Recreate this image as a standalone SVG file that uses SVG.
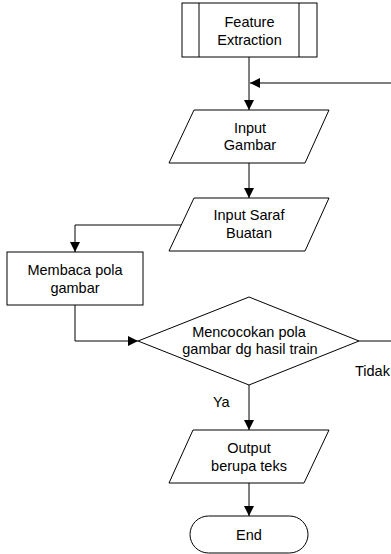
<svg xmlns="http://www.w3.org/2000/svg" width="391" height="554" viewBox="0 0 391 554">
<style>
.s{fill:#fff;stroke:#000;stroke-width:1}
.c{fill:none;stroke:#000;stroke-width:1}
text{font-family:"Liberation Sans",Arial,sans-serif;font-size:14.5px;fill:#000}
.m{text-anchor:middle}
</style>
<defs>
<marker id="a" markerUnits="userSpaceOnUse" markerWidth="10" markerHeight="10" refX="10" refY="5" orient="auto">
<path d="M0,0 L10,5 L0,10 z" fill="#000"/>
</marker>
</defs>
<rect width="391" height="554" fill="#fff"/>
<g id="connectors">
<line class="c" x1="249" y1="57" x2="249" y2="110" marker-end="url(#a)"/>
<line class="c" x1="391" y1="83" x2="250" y2="83" marker-end="url(#a)"/>
<line class="c" x1="249" y1="163" x2="249" y2="198" marker-end="url(#a)"/>
<polyline class="c" points="181,225 75,225 75,252" marker-end="url(#a)"/>
<polyline class="c" points="75,305 75,341 138,341" marker-end="url(#a)"/>
<line class="c" x1="359" y1="341" x2="391" y2="341"/>
<line class="c" x1="249" y1="385" x2="249" y2="430" marker-end="url(#a)"/>
<line class="c" x1="249" y1="483" x2="249" y2="516" marker-end="url(#a)"/>
<text x="355" y="376">Tidak</text>
<text x="213" y="407">Ya</text>
</g>
<g id="feature">
<rect class="s" x="182" y="3" width="135" height="54"/>
<line class="c" x1="199" y1="3" x2="199" y2="57"/>
<line class="c" x1="299" y1="3" x2="299" y2="57"/>
<text class="m" x="249.5" y="26.5">Feature</text>
<text class="m" x="249.5" y="45">Extraction</text>
</g>
<g id="input-gambar">
<polygon class="s" points="194,110 329,110 305,163 169,163"/>
<text class="m" x="250" y="132.5">Input</text>
<text class="m" x="250" y="150">Gambar</text>
</g>
<g id="input-saraf">
<polygon class="s" points="194,198 329,198 305,251 169,251"/>
<text class="m" x="249" y="220">Input Saraf</text>
<text class="m" x="249" y="238">Buatan</text>
</g>
<g id="membaca">
<rect class="s" x="7" y="252" width="136" height="53"/>
<text class="m" x="75" y="275">Membaca pola</text>
<text class="m" x="75" y="293">gambar</text>
</g>
<g id="decision">
<polygon class="s" points="138,341 249,297 359,341 249,385"/>
<text class="m" x="249" y="336.5">Mencocokan pola</text>
<text class="m" x="250" y="354">gambar dg hasil train</text>
</g>
<g id="output">
<polygon class="s" points="193,430 329,430 304,483 169,483"/>
<text class="m" x="249" y="453">Output</text>
<text class="m" x="249" y="471">berupa teks</text>
</g>
<g id="end">
<rect class="s" x="190" y="516" width="118" height="37" rx="18.5"/>
<text class="m" x="249" y="540">End</text>
</g>
</svg>
